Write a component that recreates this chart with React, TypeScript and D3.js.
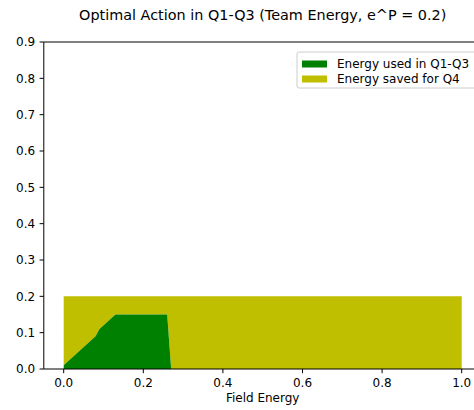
import React from "react";
import * as d3 from "d3";

const fieldEnergy = [0, 0.08, 0.09, 0.13, 0.26, 0.27, 1.0];
const energyUsed = [0.01, 0.09, 0.11, 0.15, 0.15, 0, 0];
const teamEnergy = [0.2, 0.2, 0.2, 0.2, 0.2, 0.2, 0.2];
const xTicks = [0, 0.2, 0.4, 0.6, 0.8, 1.0];
const yTicks = [0, 0.1, 0.2, 0.3, 0.4, 0.5, 0.6, 0.7, 0.8, 0.9];
const seriesNames = ["Energy used in Q1-Q3", "Energy saved for Q4"];
const seriesColors = ["#008000", "#bfbf00"];

export default function App() {
  const W = 474, H = 410;
  const left = 43.8, right = 481.6, top = 42, bottom = 369;
  const x = d3.scaleLinear().domain([-0.05, 1.05]).range([left, right]);
  const y = d3.scaleLinear().domain([0, 0.9]).range([bottom, top]);
  const idx = fieldEnergy.map((_, i) => i);
  const usedArea = d3.area<number>().x(i => x(fieldEnergy[i])).y0(y(0)).y1(i => y(energyUsed[i]))(idx) || "";
  const savedArea = d3.area<number>().x(i => x(fieldEnergy[i])).y0(i => y(energyUsed[i])).y1(i => y(teamEnergy[i]))(idx) || "";
  const font = "DejaVu Sans, sans-serif";
  return (
    <svg width={W} height={H} style={{ position: "absolute", left: 0, top: 0, background: "#fff" }} fontFamily={font}>
      <text x={(left + right) / 2} y={20} textAnchor="middle" fontSize={14.4} fill="#000">
        Optimal Action in Q1-Q3 (Team Energy, e^P = 0.2)
      </text>
      <path d={savedArea} fill={seriesColors[1]} />
      <path d={usedArea} fill={seriesColors[0]} />
      <line x1={left} x2={left} y1={top} y2={bottom} stroke="#000" strokeWidth={1} />
      <line x1={left} x2={right} y1={bottom} y2={bottom} stroke="#000" strokeWidth={1} />
      <line x1={left} x2={right} y1={top} y2={top} stroke="#000" strokeWidth={1} />
      {yTicks.map(t => (
        <g key={"y" + t}>
          <line x1={left - 4.2} x2={left} y1={y(t)} y2={y(t)} stroke="#000" strokeWidth={1} />
          <text x={left - 8.6} y={y(t)} dy="0.35em" textAnchor="end" fontSize={12} fill="#000">{t.toFixed(1)}</text>
        </g>
      ))}
      {xTicks.map(t => (
        <g key={"x" + t}>
          <line x1={x(t)} x2={x(t)} y1={bottom} y2={bottom + 4.2} stroke="#000" strokeWidth={1} />
          <text x={x(t)} y={bottom + 17.5} textAnchor="middle" fontSize={12} fill="#000">{t.toFixed(1)}</text>
        </g>
      ))}
      <text x={(left + right) / 2} y={402} textAnchor="middle" fontSize={12} fill="#000">Field Energy</text>
      <g>
        <rect x={297} y={52} width={190} height={36} rx={2} fill="#fff" fillOpacity={0.8} stroke="#ccc" strokeWidth={1} />
        {seriesNames.map((n, i) => (
          <g key={n}>
            <rect x={302} y={60.5 + i * 15} width={25} height={7} fill={seriesColors[i]} />
            <text x={337} y={64 + i * 15} dy="0.35em" fontSize={12} fill="#000">{n}</text>
          </g>
        ))}
      </g>
    </svg>
  );
}
